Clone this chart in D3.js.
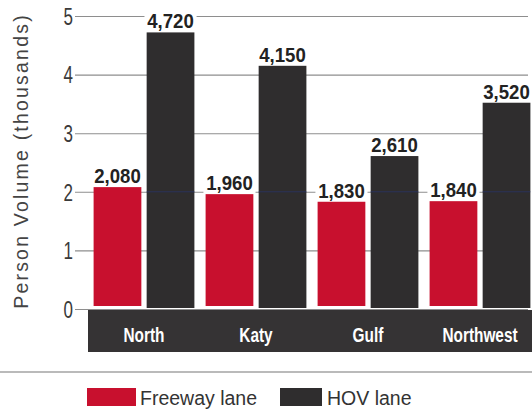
<!DOCTYPE html>
<html>
<head>
<meta charset="utf-8">
<script src="https://cdn.jsdelivr.net/npm/d3@7"></script>
<style>
  html, body { margin: 0; padding: 0; background: #fff; }
  svg { display: block; }
  text { font-family: "Liberation Sans", Arial, Helvetica, sans-serif; }
</style>
</head>
<body>
<svg id="chart" width="532" height="412"></svg>
<script>
(function () {
    'use strict';

    /* Data */

    var corridors = ['North', 'Katy', 'Gulf', 'Northwest'],
        series = ['Freeway lane', 'HOV lane'],
        freeway = [2080, 1960, 1830, 1840],
        hov = [4720, 4150, 2610, 3520],
        yTicks = [0, 1, 2, 3, 4, 5];

    var colors = { 'Freeway lane': '#c8102e', 'HOV lane': '#2f2d2e' };

    var rows = corridors.map(function (c, i) {
        return { name: c, values: [
            { key: 'Freeway lane', value: freeway[i] / 1000 },
            { key: 'HOV lane', value: hov[i] / 1000 }
        ] };
    });

    /* Setup */

    var width = 532, height = 412,
        left = 88, right = 536,
        top = 16, base = 309;

    var svg = d3.select('#chart');

    var x0 = d3.scaleBand().domain(corridors).range([left, right])
        .paddingInner(0.1).paddingOuter(0.05);
    var x1 = d3.scaleBand().domain(series).range([0, x0.bandwidth()]).paddingInner(0.1);
    var y = d3.scaleLinear().domain([0, 5]).range([base, top]);

    /* Grid + tick labels (narrowed by a horizontal squeeze) */

    var tickSquash = 0.74;
    var yAxis = d3.axisLeft(y).tickValues(yTicks).tickSize(-(528 - 75)).tickFormat(d3.format('d'));
    var axisG = svg.append('g')
        .attr('transform', 'translate(75,0)')
        .call(yAxis);
    axisG.select('.domain').remove();
    axisG.selectAll('.tick line').attr('stroke', '#8e8e8e').attr('stroke-width', 1.1);
    axisG.selectAll('.tick text')
        .attr('x', -2 / tickSquash)
        .attr('dy', '0.36em')
        .attr('transform', 'scale(' + tickSquash + ',1)')
        .attr('fill', '#3a3a3a')
        .style('font-size', '23px');

    /* Y title */

    svg.append('text')
        .attr('transform', 'translate(28,' + 161 + ') rotate(-90)')
        .attr('text-anchor', 'middle')
        .style('font-size', '19.5px')
        .style('letter-spacing', '2.2px')
        .attr('fill', '#444')
        .text('Person Volume (thousands)');

    /* Bars */

    var groups = svg.append('g').selectAll('g')
        .data(rows).enter().append('g')
        .attr('transform', function (d) { return 'translate(' + x0(d.name) + ',0)'; });

    groups.selectAll('rect')
        .data(function (d) { return d.values; })
        .enter().append('rect')
        .attr('x', function (d) { return x1(d.key); })
        .attr('width', x1.bandwidth())
        .attr('y', function (d) { return y(d.value); })
        .attr('height', function (d) { return y(0) - y(d.value) - (d.key === 'HOV lane' ? 1 : 3); })
        .attr('fill', function (d) { return colors[d.key]; });

    /* faint blue line at 2 over the dark bars (scan artefact) */
    groups.append('line')
        .attr('x1', x1('HOV lane'))
        .attr('x2', x1('HOV lane') + x1.bandwidth())
        .attr('y1', y(2)).attr('y2', y(2))
        .attr('stroke', '#27357a').attr('stroke-opacity', 0.6).attr('stroke-width', 1);

    /* Value labels with white backing */

    var fmt = d3.format(',');
    var labels = groups.selectAll('g.lab')
        .data(function (d) { return d.values; })
        .enter().append('g').attr('class', 'lab')
        .attr('transform', function (d) {
            return 'translate(' + (x1(d.key) + x1.bandwidth() / 2) + ',' + (y(d.value) - 4) + ') scale(0.93,1)';
        });

    labels.append('text')
        .attr('text-anchor', 'middle')
        .style('font-size', '20px')
        .style('font-weight', 'bold')
        .attr('fill', '#222')
        .text(function (d) { return fmt(Math.round(d.value * 1000)); });

    labels.each(function () {
        var g = d3.select(this), b = g.select('text').node().getBBox();
        g.insert('rect', 'text')
            .attr('x', b.x - 3).attr('y', b.y + 1)
            .attr('width', b.width + 6).attr('height', b.height - 2)
            .attr('fill', '#fff');
    });

    /* Category band */

    svg.append('rect')
        .attr('x', left).attr('y', base + 1)
        .attr('width', width - left).attr('height', 42)
        .attr('fill', '#353334');

    svg.append('g').selectAll('text')
        .data(corridors).enter().append('text')
        .attr('transform', function (d) {
            return 'translate(' + (x0(d) + x0.bandwidth() / 2) + ',' + (base + 33) + ') scale(0.77,1)';
        })
        .attr('text-anchor', 'middle')
        .style('font-size', '20px')
        .style('font-weight', 'bold')
        .attr('fill', '#fff')
        .text(function (d) { return d; });

    /* Separator */

    svg.append('line')
        .attr('x1', 0).attr('x2', width)
        .attr('y1', 372).attr('y2', 372)
        .attr('stroke', '#777').attr('stroke-width', 1.2);

    /* Legend */

    var legendX = [87, 280];
    var leg = svg.append('g').selectAll('g')
        .data(series).enter().append('g')
        .attr('transform', function (d, i) { return 'translate(' + legendX[i] + ',388)'; });

    leg.append('rect')
        .attr('width', function (d, i) { return i === 0 ? 49 : 42; })
        .attr('height', 18)
        .attr('fill', function (d) { return colors[d]; });

    leg.append('text')
        .attr('x', function (d, i) { return i === 0 ? 53 : 47; })
        .attr('y', 17)
        .style('font-size', '19.5px')
        .attr('fill', '#333')
        .text(function (d) { return d; });

})();
</script>
</body>
</html>
